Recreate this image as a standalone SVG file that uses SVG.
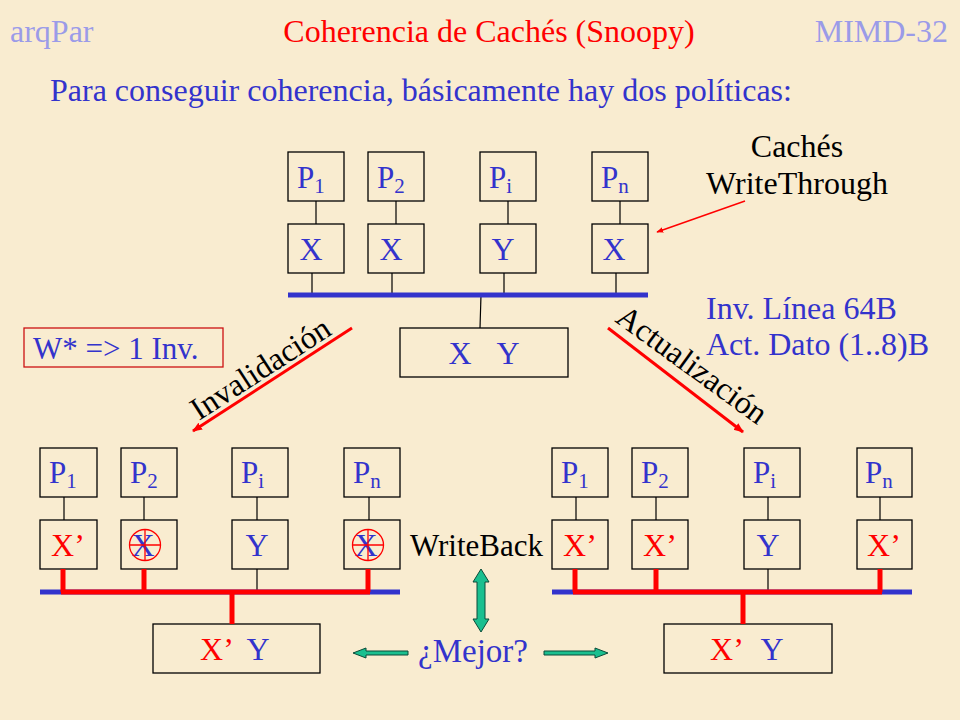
<svg xmlns="http://www.w3.org/2000/svg" width="960" height="720" viewBox="0 0 960 720">
<defs>
<style>
text{font-family:"Liberation Serif","Times New Roman",serif;}
.bx{fill:none;stroke:#000;stroke-width:1.3;}
.ln{stroke:#000;stroke-width:1.2;fill:none;}
.bus{stroke:#3333cc;stroke-width:5;fill:none;}
.rb{stroke:#ff0000;stroke-width:5;fill:none;}
.b{fill:#3333cc;}
.r{fill:#ff0000;}
.k{fill:#000;}
.p{font-size:31px;}
.sub{font-size:21px;}
.c{font-size:32px;text-anchor:middle;}
.t{font-size:32px;}
.ga{fill:#1abf8f;stroke:#0b4b38;stroke-width:1;}
.rc{fill:none;stroke:#ff0000;stroke-width:1.3;}
</style>
<marker id="ah" viewBox="0 0 10 10" refX="9" refY="5" markerWidth="7" markerHeight="7" orient="auto" markerUnits="userSpaceOnUse">
<path d="M0,1 L10,5 L0,9 z" fill="#ff0000"/>
</marker>
<marker id="ah2" viewBox="0 0 10 10" refX="9" refY="5" markerWidth="10" markerHeight="10" orient="auto" markerUnits="userSpaceOnUse">
<path d="M0,1 L10,5 L0,9 z" fill="#ff0000"/>
</marker>
</defs>
<rect x="0" y="0" width="960" height="720" fill="#f9ecd0"/>

<g id="header">
<text x="10" y="42" class="t" fill="#9b9be8">arqPar</text>
<text x="489" y="42" class="t" fill="#ff0000" text-anchor="middle">Coherencia de Cachés (Snoopy)</text>
<text x="948" y="42" class="t" fill="#9b9be8" text-anchor="end">MIMD-32</text>
<text x="50" y="101" class="t b">Para conseguir coherencia, básicamente hay dos políticas:</text>
</g>

<g id="top-system">
<g id="top-p1"><rect class="bx" x="288" y="152" width="56" height="49"/><text class="b p" x="297" y="188">P<tspan class="sub" dy="5">1</tspan></text></g>
<g id="top-p2"><rect class="bx" x="368" y="152" width="56" height="49"/><text class="b p" x="377" y="188">P<tspan class="sub" dy="5">2</tspan></text></g>
<g id="top-pi"><rect class="bx" x="480" y="152" width="56" height="49"/><text class="b p" x="489" y="188">P<tspan class="sub" dy="5">i</tspan></text></g>
<g id="top-pn"><rect class="bx" x="592" y="152" width="56" height="49"/><text class="b p" x="601" y="188">P<tspan class="sub" dy="5">n</tspan></text></g>
<g id="top-c1"><rect class="bx" x="288" y="224" width="56" height="49"/><text class="b c" x="311" y="260">X</text></g>
<g id="top-c2"><rect class="bx" x="368" y="224" width="56" height="49"/><text class="b c" x="391" y="260">X</text></g>
<g id="top-ci"><rect class="bx" x="480" y="224" width="56" height="49"/><text class="b c" x="503" y="260">Y</text></g>
<g id="top-cn"><rect class="bx" x="592" y="224" width="56" height="49"/><text class="b c" x="614" y="260">X</text></g>
<g id="top-mem"><rect class="bx" x="400" y="328" width="168" height="49"/><text class="b c" x="460" y="364">X</text><text class="b c" x="508" y="364">Y</text></g>
</g>

<g id="left-system">
<g id="l-p1"><rect class="bx" x="40" y="448" width="57" height="49"/><text class="b p" x="49" y="483">P<tspan class="sub" dy="5">1</tspan></text></g>
<g id="l-p2"><rect class="bx" x="121" y="448" width="56" height="49"/><text class="b p" x="130" y="483">P<tspan class="sub" dy="5">2</tspan></text></g>
<g id="l-pi"><rect class="bx" x="232" y="448" width="56" height="49"/><text class="b p" x="241" y="483">P<tspan class="sub" dy="5">i</tspan></text></g>
<g id="l-pn"><rect class="bx" x="344" y="448" width="56" height="49"/><text class="b p" x="353" y="483">P<tspan class="sub" dy="5">n</tspan></text></g>
<g id="l-c1"><rect class="bx" x="40" y="520" width="57" height="49"/><text class="r c" x="68" y="556">X’</text></g>
<g id="l-c2"><rect class="bx" x="121" y="520" width="56" height="49"/><text class="b c" x="143" y="556">X</text><circle class="rc" cx="145" cy="545" r="15.5"/><path class="rc" d="M129.5,545 H160.5 M145,529.5 V560.5"/></g>
<g id="l-ci"><rect class="bx" x="232" y="520" width="56" height="49"/><text class="b c" x="257" y="556">Y</text></g>
<g id="l-cn"><rect class="bx" x="344" y="520" width="56" height="49"/><text class="b c" x="366" y="556">X</text><circle class="rc" cx="368" cy="545" r="15.5"/><path class="rc" d="M352.5,545 H383.5 M368,529.5 V560.5"/></g>
<g id="l-mem"><rect class="bx" x="153" y="624" width="167" height="49"/><text class="r c" x="217" y="660">X’</text><text class="b c" x="258" y="660">Y</text></g>
</g>

<g id="right-system">
<g id="r-p1"><rect class="bx" x="552" y="448" width="56" height="49"/><text class="b p" x="561" y="483">P<tspan class="sub" dy="5">1</tspan></text></g>
<g id="r-p2"><rect class="bx" x="632" y="448" width="56" height="49"/><text class="b p" x="641" y="483">P<tspan class="sub" dy="5">2</tspan></text></g>
<g id="r-pi"><rect class="bx" x="744" y="448" width="56" height="49"/><text class="b p" x="753" y="483">P<tspan class="sub" dy="5">i</tspan></text></g>
<g id="r-pn"><rect class="bx" x="857" y="448" width="55" height="49"/><text class="b p" x="865" y="483">P<tspan class="sub" dy="5">n</tspan></text></g>
<g id="r-c1"><rect class="bx" x="552" y="520" width="56" height="49"/><text class="r c" x="580" y="556">X’</text></g>
<g id="r-c2"><rect class="bx" x="632" y="520" width="56" height="49"/><text class="r c" x="660" y="556">X’</text></g>
<g id="r-ci"><rect class="bx" x="744" y="520" width="56" height="49"/><text class="b c" x="768" y="556">Y</text></g>
<g id="r-cn"><rect class="bx" x="857" y="520" width="55" height="49"/><text class="r c" x="884" y="556">X’</text></g>
<g id="r-mem"><rect class="bx" x="664" y="624" width="168" height="49"/><text class="r c" x="727" y="660">X’</text><text class="b c" x="772" y="660">Y</text></g>
</g>

<g id="wbox">
<rect x="24" y="328" width="199" height="39" fill="none" stroke="#cc1111" stroke-width="1.3"/>
<text x="33" y="359" font-size="31" class="b">W* =&gt; 1 Inv.</text>
</g>

<g id="labels">
<text x="797" y="157" class="t k" text-anchor="middle">Cachés</text>
<text x="797" y="194" class="t k" text-anchor="middle">WriteThrough</text>
<text x="706" y="319" class="t b">Inv. Línea 64B</text>
<text x="706" y="355" class="t b">Act. Dato (1..8)B</text>
<text x="410" y="556" font-size="31" class="k">WriteBack</text>
<text x="473" y="662" font-size="33" class="b" text-anchor="middle">¿Mejor?</text>
<text transform="translate(199,421) rotate(-33)" class="t k">Invalidación</text>
<text transform="translate(614,321) rotate(36)" class="t k">Actualización</text>
</g>

<g id="connectors">
<path class="ln" d="M316,201 V224 M396,201 V224 M508,201 V224 M620,201 V224"/>
<path class="ln" d="M312,273 V295 M392,273 V295 M504,273 V295 M616,273 V295"/>
<path class="ln" d="M481,295 L480,328"/>
<path class="bus" d="M288,295 H648"/>
<path class="ln" d="M64,497 V520 M144,497 V520 M257,497 V520 M369,497 V520"/>
<path class="ln" d="M257,569 V592"/>
<path class="bus" d="M40,592 H400"/>
<path class="rb" d="M63,569 V592 M144,569 V592 M368,569 V592 M232,592 V624"/>
<path class="rb" d="M61,592 H370"/>
<path class="ln" d="M576,497 V520 M656,497 V520 M768,497 V520 M880,497 V520"/>
<path class="ln" d="M768,569 V592"/>
<path class="bus" d="M552,592 H912"/>
<path class="rb" d="M575,569 V592 M656,569 V592 M880,569 V592 M743,592 V624"/>
<path class="rb" d="M573,592 H882"/>
<path d="M745,201 L657,232" stroke="#ff0000" stroke-width="1.5" fill="none" marker-end="url(#ah)"/>
<path d="M352,328 L193,431" stroke="#ff0000" stroke-width="3" fill="none" marker-end="url(#ah2)"/>
<path d="M608,328 L743,432" stroke="#ff0000" stroke-width="3" fill="none" marker-end="url(#ah2)"/>
<path class="ga" d="M481,569 L489,582 L485,582 L485,619 L489,619 L481,632 L473,619 L477,619 L477,582 L473,582 Z"/>
<path class="ga" d="M353,653 L366,648 L366,651 L408,651 L408,655 L366,655 L366,658 Z"/>
<path class="ga" d="M608,653 L595,648 L595,651 L544,651 L544,655 L595,655 L595,658 Z"/>
</g>
</svg>
